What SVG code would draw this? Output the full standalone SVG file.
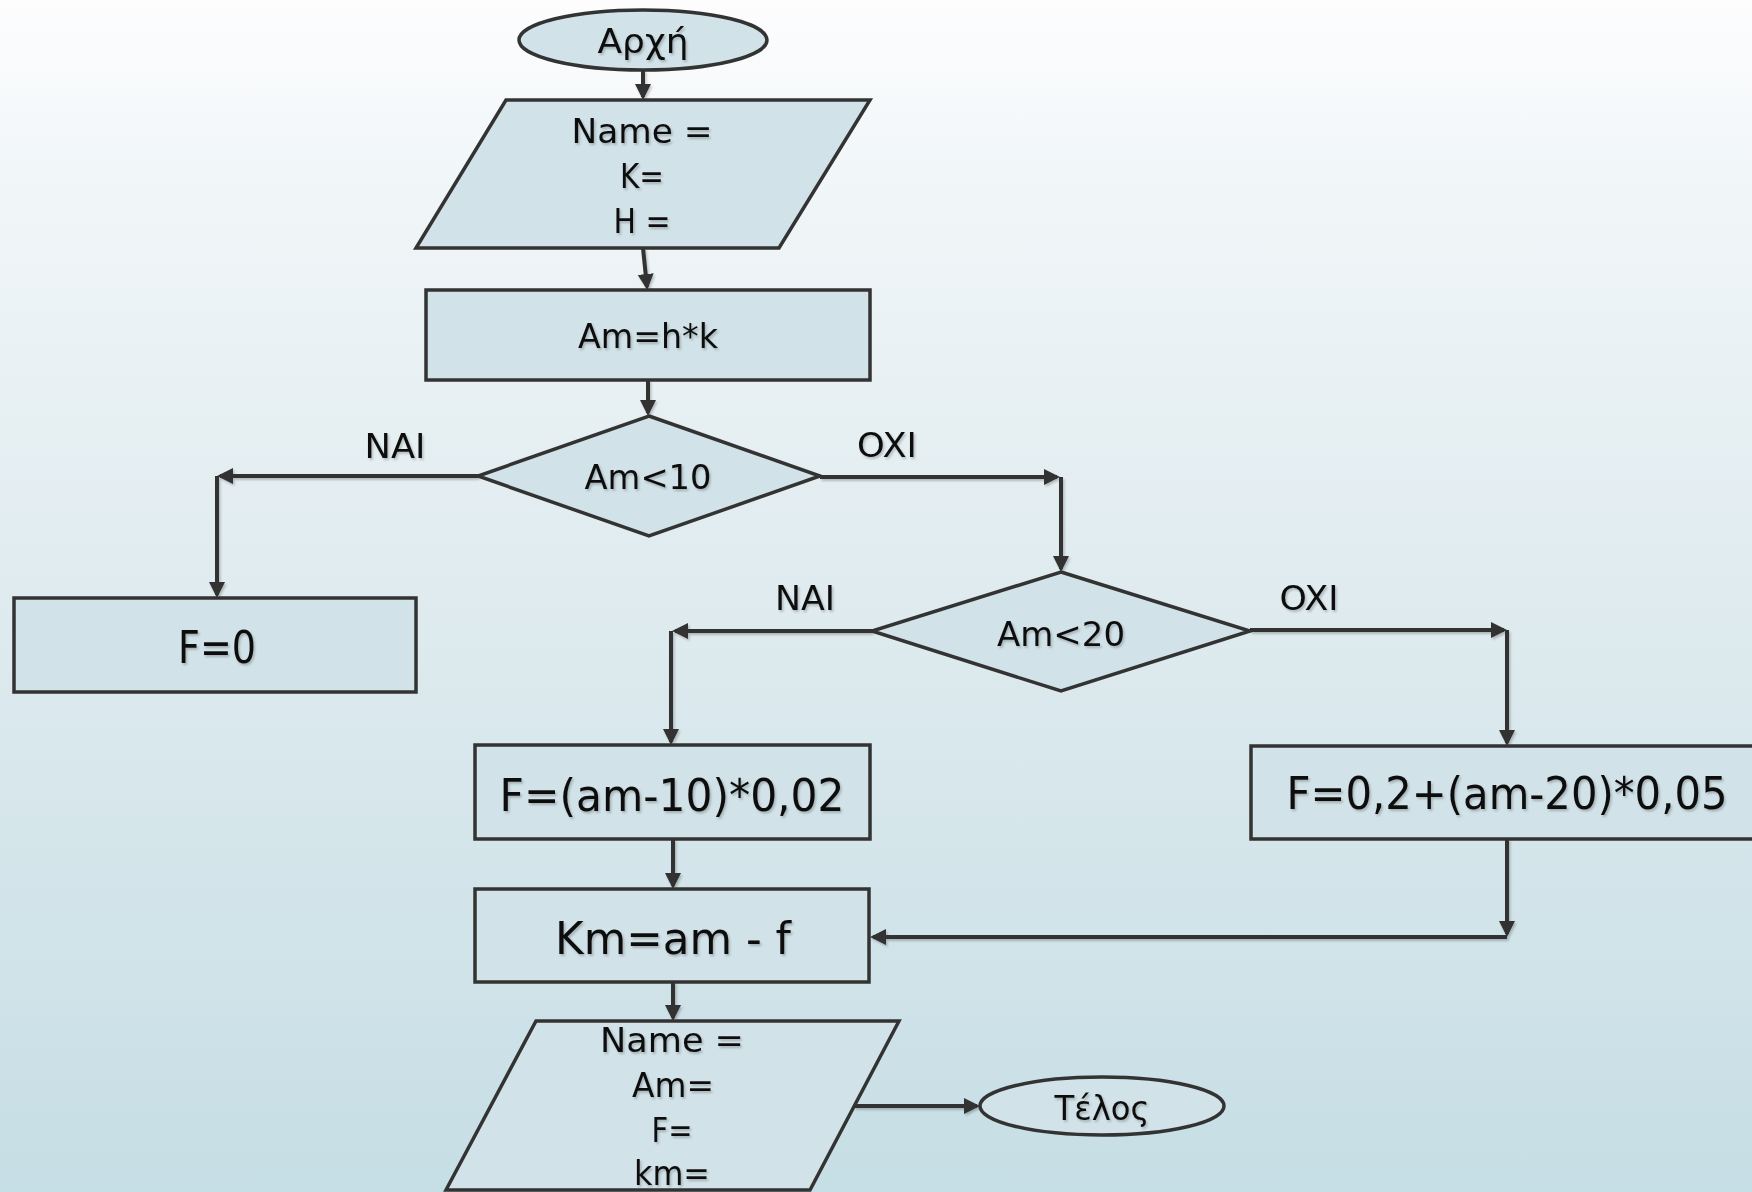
<svg xmlns="http://www.w3.org/2000/svg" width="1752" height="1192" viewBox="0 0 1752 1192">
  <defs>
    <linearGradient id="bg" x1="0" y1="0" x2="0" y2="1">
      <stop offset="0" stop-color="#fdfdfe"/>
      <stop offset="0.15" stop-color="#f1f6f8"/>
      <stop offset="0.5" stop-color="#dfebef"/>
      <stop offset="1" stop-color="#c6dee5"/>
    </linearGradient>
    <filter id="sh" x="-10%" y="-10%" width="130%" height="140%">
      <feDropShadow dx="1.5" dy="2" stdDeviation="1.2" flood-color="#000" flood-opacity="0.22"/>
    </filter>
    <marker id="ah" markerUnits="userSpaceOnUse" markerWidth="18" markerHeight="18" refX="13" refY="8" orient="auto">
      <path d="M0,0 L16,8 L0,16 z" fill="#333"/>
    </marker>
    <style>
      .node { fill: #d1e2e8; stroke: #333; stroke-width: 3.5; }
      .t { font-family: "DejaVu Sans", "Liberation Sans", sans-serif; font-size: 34px; fill: #111; text-anchor: middle; }
      .big { font-size: 44px; }
      .conn path { fill: none; stroke: #333; stroke-width: 4; marker-end: url(#ah); }
      .txt { filter: url(#sh); }
    </style>
  </defs>
  <rect x="0" y="0" width="1752" height="1192" fill="url(#bg)"/>

  <g id="connectors" filter="url(#sh)" class="conn">
    <path d="M643,70 L643,97"/>
    <path d="M643,248 L647,287"/>
    <path d="M648,380 L648,413"/>
    <path d="M478,476 L220,476"/>
    <path d="M217,476 L217,595"/>
    <path d="M820,477 L1057,477"/>
    <path d="M1061,477 L1061,569"/>
    <path d="M872,631 L675,631"/>
    <path d="M671,631 L671,742"/>
    <path d="M1250,630 L1504,630"/>
    <path d="M1507,630 L1507,743"/>
    <path d="M673,839 L673,886"/>
    <path d="M1507,839 L1507,934"/>
    <path d="M1507,937 L873,937"/>
    <path d="M673,982 L673,1018"/>
    <path d="M854,1106 L977,1106"/>
  </g>

  <g id="start">
    <ellipse class="node" cx="643" cy="40" rx="124" ry="30"/>
    <text class="t txt" x="643" y="53" textLength="91" lengthAdjust="spacingAndGlyphs">Αρχή</text>
  </g>

  <g id="input">
    <polygon class="node" points="506,100 870,100 779,248 416,248"/>
    <text class="t txt" x="642" y="143" textLength="141" lengthAdjust="spacingAndGlyphs">Name =</text>
    <text class="t txt" x="642" y="188" textLength="44" lengthAdjust="spacingAndGlyphs">K=</text>
    <text class="t txt" x="642" y="233" textLength="57" lengthAdjust="spacingAndGlyphs">H =</text>
  </g>

  <g id="calc-am">
    <rect class="node" x="426" y="290" width="444" height="90"/>
    <text class="t txt" x="648" y="348" textLength="140" lengthAdjust="spacingAndGlyphs">Am=h*k</text>
  </g>

  <g id="decision-10">
    <polygon class="node" points="649,416 820,476 649,536 478,476"/>
    <text class="t txt" x="648" y="489" textLength="127" lengthAdjust="spacingAndGlyphs">Am&lt;10</text>
  </g>

  <g id="labels">
    <text class="t txt" x="395" y="458" textLength="61" lengthAdjust="spacingAndGlyphs">NAI</text>
    <text class="t txt" x="887" y="457" textLength="60" lengthAdjust="spacingAndGlyphs">OXI</text>
    <text class="t txt" x="805" y="610" textLength="60" lengthAdjust="spacingAndGlyphs">NAI</text>
    <text class="t txt" x="1309" y="610" textLength="59" lengthAdjust="spacingAndGlyphs">OXI</text>
  </g>

  <g id="f-zero">
    <rect class="node" x="14" y="598" width="402" height="94"/>
    <text class="t big txt" x="217" y="663" textLength="78" lengthAdjust="spacingAndGlyphs">F=0</text>
  </g>

  <g id="decision-20">
    <polygon class="node" points="1061,572 1250,631 1061,691 872,631"/>
    <text class="t txt" x="1061" y="646" textLength="128" lengthAdjust="spacingAndGlyphs">Am&lt;20</text>
  </g>

  <g id="f-mid">
    <rect class="node" x="475" y="745" width="395" height="94"/>
    <text class="t big txt" x="672" y="811" textLength="345" lengthAdjust="spacingAndGlyphs">F=(am-10)*0,02</text>
  </g>

  <g id="f-high">
    <rect class="node" x="1251" y="746" width="520" height="93"/>
    <text class="t big txt" x="1507" y="809" textLength="441" lengthAdjust="spacingAndGlyphs">F=0,2+(am-20)*0,05</text>
  </g>

  <g id="km">
    <rect class="node" x="475" y="889" width="394" height="93"/>
    <text class="t big txt" x="673" y="954" textLength="236" lengthAdjust="spacingAndGlyphs">Km=am - f</text>
  </g>

  <g id="output">
    <polygon class="node" points="536,1021 899,1021 810,1190 446,1190"/>
    <text class="t txt" x="672" y="1052" textLength="144" lengthAdjust="spacingAndGlyphs">Name =</text>
    <text class="t txt" x="673" y="1097" textLength="82" lengthAdjust="spacingAndGlyphs">Am=</text>
    <text class="t txt" x="672" y="1142" textLength="41" lengthAdjust="spacingAndGlyphs">F=</text>
    <text class="t txt" x="672" y="1185" textLength="76" lengthAdjust="spacingAndGlyphs">km=</text>
  </g>

  <g id="end">
    <ellipse class="node" cx="1102" cy="1106" rx="122" ry="29"/>
    <text class="t txt" x="1102" y="1120" textLength="95" lengthAdjust="spacingAndGlyphs">Τέλος</text>
  </g>
</svg>
